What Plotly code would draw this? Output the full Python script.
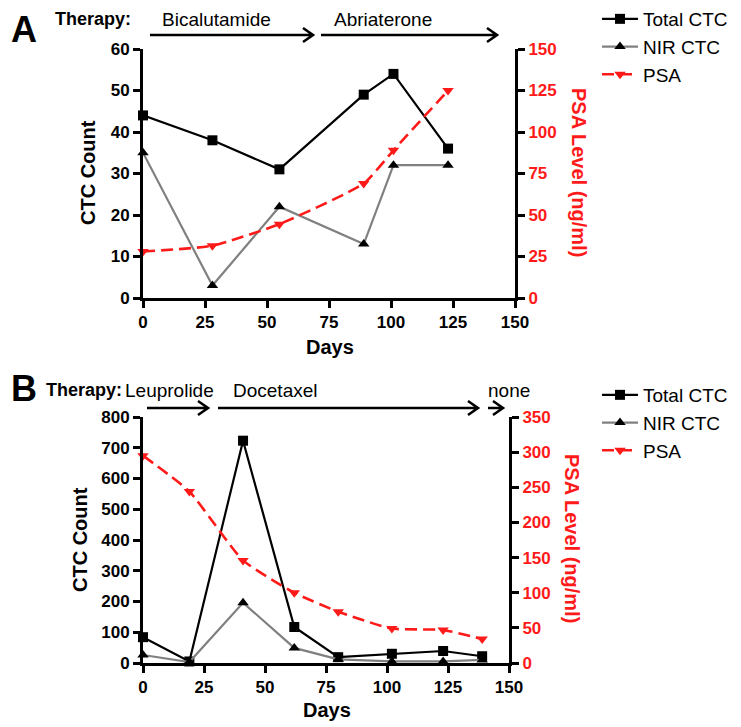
import plotly.graph_objects as go

# ---------------- data ----------------
days_a = [0, 28, 55, 89, 101, 123]
total_a = [44, 38, 31, 49, 54, 36]
nir_a = [35, 3, 22, 13, 32, 32]
psa_a = [28, 31.5, 44.5, 69, 89, 125]

days_b = [0, 19, 41, 62, 80, 102, 123, 139]
total_b = [84, 5, 723, 117, 19, 30, 39, 22]
nir_b = [26, 3, 196, 49, 12, 5, 5, 10]
psa_b = [295, 244, 146, 100, 73, 49, 47, 34]

x_ticks = [0, 25, 50, 75, 100, 125, 150]
ya_ticks = [0, 10, 20, 30, 40, 50, 60]
ya2_ticks = [0, 25, 50, 75, 100, 125, 150]
yb_ticks = [0, 100, 200, 300, 400, 500, 600, 700, 800]
yb2_ticks = [0, 50, 100, 150, 200, 250, 300, 350]

W, H = 741, 727
OFF = 8  # page body margin
FONT = "Liberation Sans, Arial, sans-serif"
RED = "#ff1a1a"
GRAY = "#808080"


def px(x):
    return (x - OFF) / W


def py(y):
    return 1 - (y - OFF) / H


fig = go.Figure()


def add_panel(days, total, nir, psa, xa, ya, ya2, legend):
    fig.add_trace(go.Scatter(x=days, y=total, name="Total CTC", mode="lines+markers",
                             line=dict(color="black", width=2.2),
                             marker=dict(symbol="square", size=10, color="black"),
                             xaxis=xa, yaxis=ya, legend=legend, cliponaxis=False))
    fig.add_trace(go.Scatter(x=days, y=nir, name="NIR CTC", mode="lines+markers",
                             line=dict(color=GRAY, width=2.2),
                             marker=dict(symbol="triangle-up", size=10, color="black"),
                             xaxis=xa, yaxis=ya, legend=legend, cliponaxis=False))
    fig.add_trace(go.Scatter(x=days, y=psa, name="PSA", mode="lines+markers",
                             line=dict(color=RED, width=2.6, dash="12px,6px", shape="spline", smoothing=0.5),
                             marker=dict(symbol="triangle-down", size=10, color=RED),
                             xaxis=xa, yaxis=ya2, legend=legend, cliponaxis=False))


add_panel(days_a, total_a, nir_a, psa_a, "x", "y", "y2", "legend")
add_panel(days_b, total_b, nir_b, psa_b, "x3", "y3", "y4", "legend2")

tickfont = dict(family=FONT, size=17, color="black", weight="bold")
redtick = dict(family=FONT, size=17, color=RED, weight="bold")
axis_common = dict(showgrid=False, zeroline=False, showline=True, linecolor="black",
                   linewidth=3, ticks="outside", ticklen=7, tickwidth=3, tickcolor="black",
                   automargin=False)

# Panel geometry (pixels in the reference picture)
A_l, A_r, A_t, A_b = 143, 515, 49, 298
B_l, B_r, B_t, B_b = 143, 509, 417, 663

fig.update_layout(
    width=W, height=H, margin=dict(l=0, r=0, t=0, b=0, pad=0, autoexpand=False),
    paper_bgcolor="white", plot_bgcolor="white",
    xaxis=dict(domain=[px(A_l), px(A_r)], range=[0, 150], tickvals=x_ticks, anchor="y",
               tickfont=tickfont, **axis_common),
    yaxis=dict(domain=[py(A_b), py(A_t)], range=[0, 60], tickvals=ya_ticks, anchor="x",
               tickfont=tickfont, **axis_common),
    yaxis2=dict(range=[0, 150], tickvals=ya2_ticks, overlaying="y", side="right", anchor="x",
                tickfont=redtick, **axis_common),
    xaxis3=dict(domain=[px(B_l), px(B_r)], range=[0, 150], tickvals=x_ticks, anchor="y3",
                tickfont=tickfont, **axis_common),
    yaxis3=dict(domain=[py(B_b), py(B_t)], range=[0, 800], tickvals=yb_ticks, anchor="x3",
                tickfont=tickfont, **axis_common),
    yaxis4=dict(range=[0, 350], tickvals=yb2_ticks, overlaying="y3", side="right", anchor="x3",
                tickfont=redtick, **axis_common),
    legend=dict(x=px(597), y=py(0), xanchor="left", yanchor="top",
                font=dict(family=FONT, size=19, color="black"), bgcolor="rgba(0,0,0,0)",
                itemwidth=36, tracegroupgap=0),
    legend2=dict(x=px(597), y=py(376), xanchor="left", yanchor="top",
                 font=dict(family=FONT, size=19, color="black"), bgcolor="rgba(0,0,0,0)",
                 itemwidth=36, tracegroupgap=0),
    showlegend=True,
)

ann = []


def text(x, y, s, size, bold=False, color="black", angle=0, xanchor="center"):
    ann.append(dict(x=px(x), y=py(y), xref="paper", yref="paper", text=s, showarrow=False,
                    textangle=angle, xanchor=xanchor, yanchor="middle",
                    font=dict(family=FONT, size=size, color=color,
                              weight="bold" if bold else "normal")))


# Panel letters and headers
text(9, 29, "A", 36, True, xanchor="left")
text(53, 19, "Therapy:", 18, True, xanchor="left")
text(160, 19, "Bicalutamide", 19, xanchor="left")
text(332, 19, "Abriaterone", 19, xanchor="left")

text(9, 389, "B", 36, True, xanchor="left")
text(44, 390, "Therapy:", 18, True, xanchor="left")
text(123, 390, "Leuprolide", 19, xanchor="left")
text(231, 390, "Docetaxel", 19, xanchor="left")
text(486, 390, "none", 19, xanchor="left")

# Axis titles
text(88, 173, "CTC Count", 20, True, angle=-90)
text(579, 172, "PSA Level (ng/ml)", 20, True, color=RED, angle=90)
text(330, 347, "Days", 20, True)

text(80, 540, "CTC Count", 20, True, angle=-90)
text(572, 538, "PSA Level (ng/ml)", 20, True, color=RED, angle=90)
text(327, 710, "Days", 20, True)

fig.update_layout(annotations=ann)

# Therapy arrows (decorations)
shapes = []


def arrow(x1, x2, y):
    path = (f"M {px(x1)} {py(y)} L {px(x2)} {py(y)} "
            f"M {px(x2 - 10)} {py(y - 7)} L {px(x2)} {py(y)} L {px(x2 - 10)} {py(y + 7)}")
    shapes.append(dict(type="path", path=path, xref="paper", yref="paper",
                       line=dict(color="black", width=2.6)))


arrow(150, 313, 35)
arrow(321, 497, 35)
arrow(147, 208, 408)
arrow(218, 478, 408)
arrow(488, 503, 408)

fig.update_layout(shapes=shapes)

fig.write_html("out.html")
